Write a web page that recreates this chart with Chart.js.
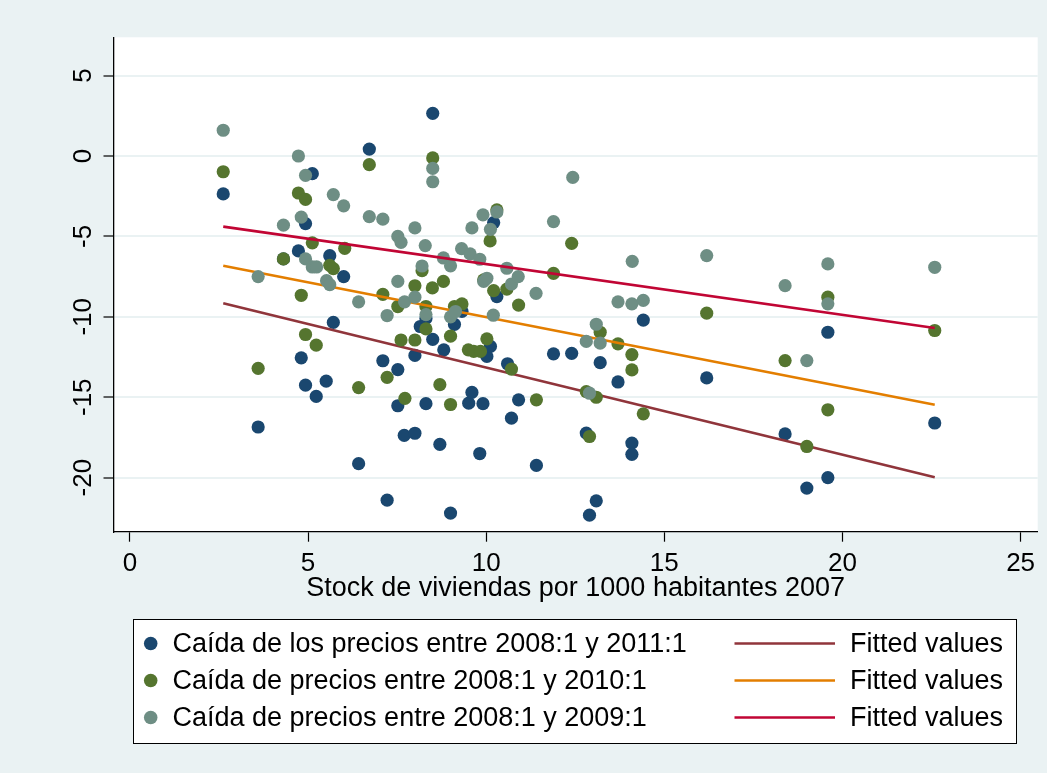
<!DOCTYPE html>
<html>
<head>
<meta charset="utf-8">
<script src="https://cdn.jsdelivr.net/npm/chart.js@4.4.1/dist/chart.umd.min.js"></script>
<style>
  html, body { margin: 0; padding: 0; background: #eaf2f3; }
  #wrap { width: 1047px; height: 773px; position: relative; }
</style>
</head>
<body>
<div id="wrap"><canvas id="chartCanvas"></canvas></div>
<script>
// Caída de los precios entre 2008:1 y 2011:1
const x2011 = [2.62, 3.6, 4.31, 4.73, 4.81, 4.93, 4.93, 5.12, 5.23, 5.51, 5.61, 5.71, 6.0, 6.42, 6.72,
  7.1, 7.22, 7.52, 7.52, 7.7, 8.0, 8.0, 8.15, 8.31, 8.31, 8.5, 8.5, 8.7, 8.81, 9.0, 9.11, 9.32, 9.51,
  9.6, 9.82, 9.91, 10.02, 10.12, 10.21, 10.3, 10.6, 10.71, 10.91, 11.41, 11.89, 12.4, 12.81, 12.9,
  13.09, 13.2, 13.7, 14.09, 14.09, 14.41, 16.19, 18.39, 19.0, 19.59, 19.59, 22.59];
const y2011 = [-2.36, -16.85, -6.4, -5.9, -12.55, -4.2, -14.25, -1.1, -14.95, -14.0, -6.2, -10.35, -7.5, -19.13, 0.43,
  -12.73, -21.4, -13.28, -15.53, -17.37, -17.24, -12.4, -10.6, -10.1, -15.4, 2.65, -11.4, -17.93, -12.05, -22.2, -10.47, -9.66, -15.37,
  -14.7, -18.5, -15.4, -12.46, -11.84, -4.14, -8.74, -12.92, -16.3, -15.16, -19.24, -12.3, -12.27, -17.23, -22.33,
  -21.44, -12.85, -14.05, -17.85, -18.55, -10.2, -13.8, -17.28, -20.65, -20.0, -10.96, -16.6];

// Caída de precios entre 2008:1 y 2010:1
const x2010 = [2.62, 3.6, 4.31, 4.73, 4.81, 4.93, 4.93, 5.12, 5.23, 5.61, 5.71, 6.03, 6.42, 6.72, 7.1,
  7.22, 7.52, 7.61, 7.72, 8.0, 8.0, 8.2, 8.31, 8.31, 8.5, 8.49, 8.7, 8.8, 9.0, 9.0, 9.11, 9.32, 9.5,
  9.65, 9.84, 9.93, 10.02, 10.11, 10.21, 10.3, 10.58, 10.71, 10.91, 11.41, 11.89, 12.4, 12.81, 12.9,
  13.09, 13.2, 13.7, 14.09, 14.09, 14.41, 16.19, 18.39, 19.0, 19.59, 19.59, 22.59];
const y2010 = [-0.98, -13.2, -6.4, -2.3, -8.66, -2.7, -11.1, -5.4, -11.76, -6.8, -7.0, -5.74, -14.4, -0.54, -8.6,
  -13.76, -9.36, -11.44, -15.07, -8.07, -11.44, -7.13, -9.36, -10.75, -0.12, -8.2, -14.22, -7.8, -11.2, -15.45, -9.36, -9.2, -12.05,
  -12.15, -12.15, -7.7, -11.37, -5.28, -8.37, -3.35, -8.28, -13.25, -9.27, -15.16, -7.3, -5.43, -14.65, -17.44,
  -15.0, -10.96, -11.68, -12.35, -13.3, -16.03, -9.77, -12.72, -18.06, -8.78, -15.78, -10.85];

// Caída de precios entre 2008:1 y 2009:1
const x2009 = [2.62, 3.6, 4.31, 4.73, 4.81, 4.93, 4.93, 5.12, 5.24, 5.52, 5.61, 5.71, 6.0, 6.42, 6.72,
  7.1, 7.22, 7.52, 7.61, 7.52, 7.71, 8.0, 8.0, 8.2, 8.29, 8.31, 8.5, 8.5, 8.8, 9.0, 9.0, 9.14, 9.31,
  9.55, 9.6, 9.82, 9.91, 9.93, 10.02, 10.12, 10.2, 10.3, 10.58, 10.71, 10.9, 11.4, 11.89, 12.43, 12.81,
  12.9, 13.09, 13.2, 13.7, 14.09, 14.1, 14.41, 16.19, 18.39, 19.0, 19.59, 19.59, 22.59];
const y2009 = [1.6, -7.5, -4.3, 0.0, -3.8, -1.2, -6.4, -6.9, -6.9, -7.75, -8.0, -2.4, -3.1, -9.07, -3.77,
  -3.93, -9.92, -5.0, -5.37, -7.8, -9.07, -4.47, -8.78, -6.84, -5.57, -9.86, -0.77, -1.6, -6.34, -6.83, -10.0, -9.67, -5.76,
  -6.09, -4.47, -6.42, -3.66, -7.8, -7.6, -4.56, -9.9, -3.48, -6.98, -7.96, -7.5, -8.54, -4.08, -1.33, -11.53,
  -14.75, -10.46, -11.63, -9.07, -9.19, -6.55, -8.98, -6.19, -8.06, -12.72, -6.71, -9.19, -6.92];

// Fitted values (extremos de cada recta)
const fitX = [2.62, 22.59];
const fit2011 = [-9.15, -19.97];
const fit2010 = [-6.82, -15.47];
const fit2009 = [-4.39, -10.7];

const xTicks = [0, 5, 10, 15, 20, 25];
const yTicks = [-20, -15, -10, -5, 0, 5];
const xTitle = "Stock de viviendas por 1000 habitantes 2007";

const FONT = '"Liberation Sans", Arial, sans-serif';
const pts = (xs, ys) => xs.map((x, i) => ({ x: x, y: ys[i] }));

// fondo blanco del área de gráfico
const plotBg = {
  id: "plotBg",
  beforeDraw(chart) {
    const { ctx, chartArea: a } = chart;
    ctx.save();
    ctx.fillStyle = "#ffffff";
    ctx.fillRect(a.left, a.top, a.right - a.left, a.bottom - a.top);
    ctx.restore();
  }
};

// etiquetas del eje Y giradas
const yLabels = {
  id: "yLabels",
  afterDraw(chart) {
    const { ctx } = chart;
    const sc = chart.scales.y;
    ctx.save();
    ctx.fillStyle = "#000";
    ctx.font = "26px " + FONT;
    ctx.textAlign = "center";
    ctx.textBaseline = "middle";
    yTicks.forEach(v => {
      ctx.save();
      ctx.translate(84, sc.getPixelForValue(v));
      ctx.rotate(-Math.PI / 2);
      ctx.fillText(String(v), 0, 0);
      ctx.restore();
    });
    ctx.restore();
  }
};

// leyenda en dos columnas
const legendBox = {
  id: "legendBox",
  afterDraw(chart) {
    const { ctx } = chart;
    const ds = chart.data.datasets;
    ctx.save();
    ctx.fillStyle = "#ffffff";
    ctx.fillRect(133.5, 619, 883, 124);
    ctx.strokeStyle = "#000";
    ctx.lineWidth = 1;
    ctx.strokeRect(133.5, 619.5, 883, 124);
    ctx.font = "27px " + FONT;
    ctx.textBaseline = "middle";
    ctx.textAlign = "left";
    const rows = [643.5, 680.5, 717.5];
    for (let r = 0; r < 3; r++) {
      const sc = ds[r * 2], ln = ds[r * 2 + 1];
      const y = rows[r];
      ctx.fillStyle = sc.backgroundColor;
      ctx.beginPath();
      ctx.arc(150.7, y, 6.8, 0, Math.PI * 2);
      ctx.fill();
      ctx.fillStyle = "#000";
      ctx.fillText(sc.label, 172.5, y + 1);
      ctx.strokeStyle = ln.borderColor;
      ctx.lineWidth = 2.6;
      ctx.beginPath();
      ctx.moveTo(734.5, y);
      ctx.lineTo(835, y);
      ctx.stroke();
      ctx.fillText(ln.label, 850, y + 1);
    }
    ctx.restore();
  }
};

const scatterSet = (label, xs, ys, color, order) => ({
  type: "scatter", label: label, data: pts(xs, ys),
  backgroundColor: color, borderWidth: 0, pointRadius: 6.6, pointHoverRadius: 6.6, order: order
});
const fitSet = (ys, color, order) => ({
  type: "line", label: "Fitted values", data: pts(fitX, ys),
  borderColor: color, borderWidth: 2.6, pointRadius: 0, fill: false, tension: 0, order: order
});

new Chart(document.getElementById("chartCanvas"), {
  type: "scatter",
  data: {
    datasets: [
      scatterSet("Caída de los precios entre 2008:1 y 2011:1", x2011, y2011, "#1a476f", 5),
      fitSet(fit2011, "#90353b", 4),
      scatterSet("Caída de precios entre 2008:1 y 2010:1", x2010, y2010, "#55752f", 3),
      fitSet(fit2010, "#e37e00", 2),
      scatterSet("Caída de precios entre 2008:1 y 2009:1", x2009, y2009, "#6e8e84", 1),
      fitSet(fit2009, "#c10534", 0)
    ]
  },
  options: {
    responsive: true,
    maintainAspectRatio: false,
    animation: false,
    events: [],
    layout: { padding: { top: 37.3, right: 9.3, bottom: 170.5, left: 0 } },
    plugins: { legend: { display: false }, tooltip: { enabled: false } },
    scales: {
      x: {
        type: "linear", min: -0.46, max: 25.48,
        afterBuildTicks: s => { s.ticks = xTicks.map(v => ({ value: v })); },
        afterFit: s => { s.height = 70.8; },
        grid: { drawOnChartArea: false, drawTicks: true, tickLength: 10, tickColor: "#000", tickWidth: 1.2 },
        border: { color: "#000", width: 1.3 },
        ticks: { color: "#000", padding: 9, maxRotation: 0, font: { family: FONT, size: 26, lineHeight: 1 } },
        title: { display: true, text: xTitle, color: "#000", padding: 0, font: { family: FONT, size: 27, lineHeight: 1 } }
      },
      y: {
        type: "linear", min: -23.36, max: 7.38,
        afterBuildTicks: s => { s.ticks = yTicks.map(v => ({ value: v })); },
        afterFit: s => { s.width = 113.5; },
        grid: { color: "#eaf2f3", lineWidth: 2, drawTicks: true, tickLength: 10, tickColor: "#000", tickWidth: 1.2 },
        border: { color: "#000", width: 1.3 },
        ticks: { display: false }
      }
    }
  },
  plugins: [plotBg, yLabels, legendBox]
});
</script>
</body>
</html>
